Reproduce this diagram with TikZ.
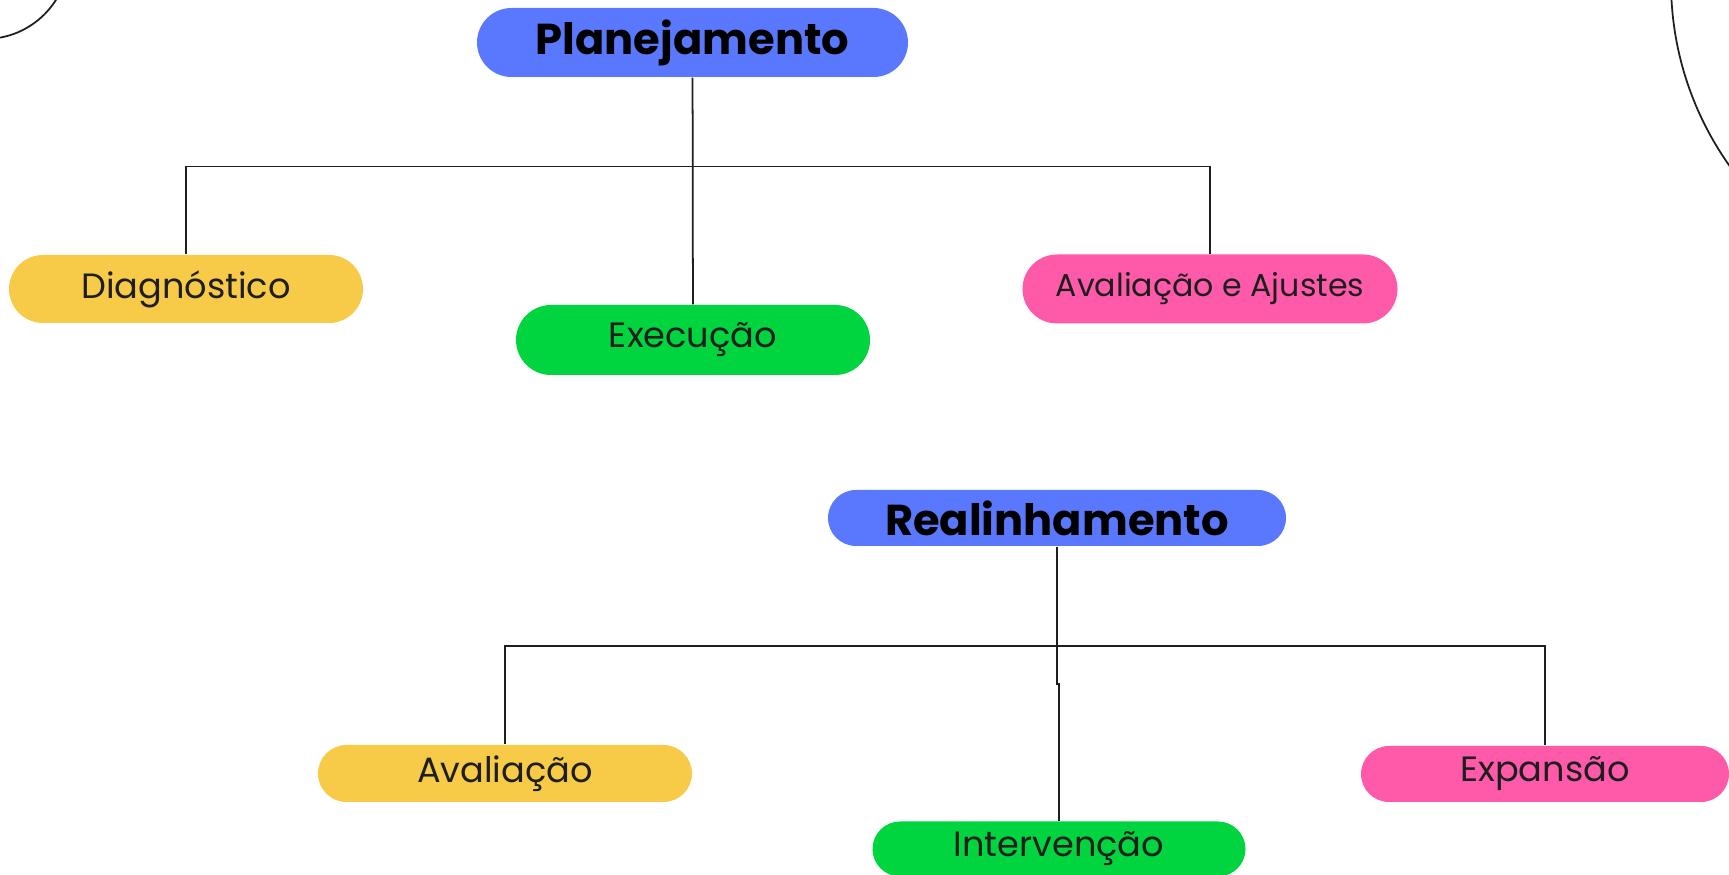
\documentclass[tikz,border=0pt]{standalone}
\usepackage{fontspec}
\setmainfont{Poppins}
\usepackage{tikz}
\definecolor{azul}{RGB}{90,120,254}
\definecolor{amarelo}{RGB}{247,203,72}
\definecolor{verde}{RGB}{0,212,62}
\definecolor{rosa}{RGB}{255,90,170}
\definecolor{texto}{RGB}{30,30,30}
\begin{document}
\begin{tikzpicture}[
  titulo/.style={fill=azul,rounded corners=0.3cm,inner sep=0pt,text=black,font=\bfseries\fontsize{12.3}{13}\selectfont},
  etapa/.style={rounded corners=0.3cm,inner sep=0pt,minimum height=0.68cm,text=texto,font=\fontsize{10}{12}\selectfont},
  linha/.style={line width=0.5pt,draw=texto}]
\clip (0,0) rectangle (17.29,8.75);
\draw [linha] (-0.15,9.20) circle (0.84);
\draw [linha] (19.89,8.93) circle (3.18);
% Planejamento
\node [titulo,minimum width=4.31cm,minimum height=0.69cm,rounded corners=0.345cm] (plan) at (6.925,8.325) {Planejamento};
\node [etapa,fill=amarelo,minimum width=3.54cm,rounded corners=0.34cm] (diag) at (1.86,5.86) {Diagnóstico};
\node [etapa,fill=verde,minimum width=3.54cm,minimum height=0.70cm,rounded corners=0.35cm] (exec) at (6.93,5.35) {Execução};
\node [etapa,fill=rosa,minimum width=3.75cm,minimum height=0.69cm,rounded corners=0.345cm,font=\fontsize{9}{11}\selectfont] (ajus) at (12.10,5.86) {Avaliação e Ajustes};
\coordinate (barA) at (6.93,7.085);
\draw [linha] (plan) -- (exec);
\draw [linha] (diag.north) |- (barA) -| (ajus.north);
% Realinhamento
\node [titulo,minimum width=4.58cm,minimum height=0.56cm,rounded corners=0.28cm] (real) at (10.57,3.57) {Realinhamento};
\node [etapa,fill=amarelo,minimum width=3.74cm,minimum height=0.57cm,rounded corners=0.285cm] (aval) at (5.05,1.015) {Avaliação};
\node [etapa,fill=verde,minimum width=3.73cm,minimum height=0.55cm,rounded corners=0.275cm] (interv) at (10.59,0.26) {Intervenção};
\node [etapa,fill=rosa,minimum width=3.68cm,minimum height=0.56cm,rounded corners=0.28cm] (expan) at (15.45,1.01) {Expansão};
\coordinate (barB) at (10.57,2.29);
\coordinate (jog) at (10.57,1.91);
\draw [linha] (real) -- (jog) -| (interv.north);
\draw [linha] (aval.north) |- (barB) -| (expan.north);
\end{tikzpicture}
\end{document}
